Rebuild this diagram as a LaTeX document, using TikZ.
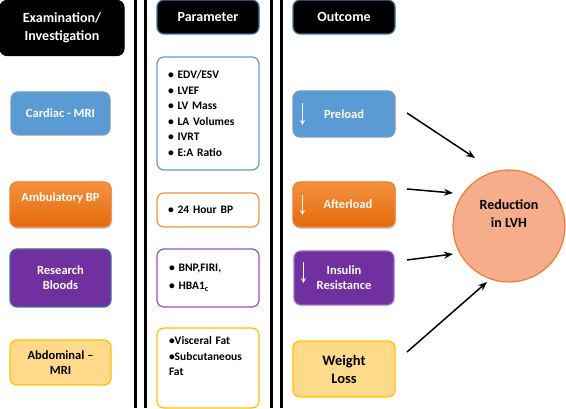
\documentclass[tikz,border=0pt]{standalone}
\usepackage{fontspec}
\setmainfont{Carlito}
\usepackage{xcolor}
\usetikzlibrary{positioning,shadows,arrows.meta}

\definecolor{mriblue}{HTML}{5B9BD5}
\definecolor{edgeblue}{HTML}{41719C}
\definecolor{bporange}{HTML}{ED7D31}
\definecolor{bptop}{HTML}{F6913F}
\definecolor{bpbot}{HTML}{E36A0C}
\definecolor{bloodpurple}{HTML}{7030A0}
\definecolor{fatfill}{HTML}{FFDA8A}
\definecolor{fatgold}{HTML}{FFC000}
\definecolor{lvhfill}{HTML}{F5AD8C}

\begin{document}
\begin{tikzpicture}[x=1pt,y=-1pt,line width=1.2pt,
    font=\bfseries\fontsize{12.5}{15}\selectfont,
    base/.style={rectangle,rounded corners=7pt,draw,minimum width=101pt,text centered,align=center,inner sep=2pt},
    head/.style={base,fill=black,text=white,draw=edgeblue,font=\bfseries\fontsize{14}{18}\selectfont},
    mri/.style={base,fill=mriblue,draw=edgeblue!70,text=white},
    bp/.style={base,top color=bptop,bottom color=bpbot,draw=bporange,text=white,
        drop shadow={opacity=0.35,shadow xshift=1pt,shadow yshift=-2pt}},
    blood/.style={base,fill=bloodpurple,text=white},
    fat/.style={base,fill=fatfill,draw=fatgold,text=black},
    plist/.style={base,fill=white,align=left,font=\bfseries\fontsize{11.5}{15.5}\selectfont},
    down/.style={draw=white,line width=1pt,-{Stealth[length=5pt,width=5pt]}},
    arr/.style={line width=1.5pt,-{Stealth[length=9pt,width=7pt]}},
    rail/.style={line width=3pt}]

    \useasboundingbox (0,0) rectangle (566,409);

    \draw[rail] (135,0) -- (135,408);
    \draw[rail] (145,0) -- (145,408);
    \draw[rail] (271,0) -- (271,408);
    \draw[rail] (281,0) -- (281,408);

    \node[head, draw=black, minimum width=124pt, minimum height=55pt] (exam) at (62,28)
    {Examination/\\Investigation};
    \node[head, minimum width=102pt, minimum height=34pt] (par) at (208,17)
    {Parameter};
    \node[head, minimum width=102pt, minimum height=34pt] (out) at (344,17)
    {Outcome};

    \node[mri, minimum width=99pt, minimum height=43pt] (mri) at (60.5,113.5)
    {Cardiac - MRI};
    \node[bp, minimum height=45pt] (amb) at (60.5,204.5)
    {Ambulatory BP\\~};
    \node[blood, draw=edgeblue, minimum height=58pt] (res) at (60.5,278)
    {Research\\Bloods};
    \node[fat, minimum height=45pt] (abd) at (60.5,362.5)
    {Abdominal –\\MRI};

    \node[plist, draw=mriblue, minimum width=102pt, minimum height=113pt, text width=80pt] (p1) at (208,113.5)
    {\textbullet\ EDV/ESV\\ \textbullet\ LVEF\\ \textbullet\ LV Mass\\ \textbullet\ LA Volumes\\ \textbullet\ IVRT\\ \textbullet\ E:A Ratio};
    \node[plist, draw=bptop, minimum width=102pt, minimum height=34pt, text width=80pt] (p2) at (208,210)
    {\textbullet\ 24 Hour BP};
    \node[plist, draw=bloodpurple!80, minimum width=102pt, minimum height=58pt, text width=78pt,
        font=\bfseries\fontsize{11.5}{18}\selectfont] (p3) at (208,278)
    {\textbullet\ BNP,FIRI,\\ \textbullet\ HBA1\textsubscript{c}};
    \node[plist, draw=fatgold, minimum width=102pt, minimum height=80pt, text width=78pt] (p4) at (208,368)
    {\textbullet Visceral Fat\\ \textbullet Subcutaneous\\ Fat\\[8pt]~};

    \node[mri, minimum width=102pt, minimum height=46pt] (pre) at (344,114)
    {Preload};
    \node[bp, minimum width=102pt, minimum height=45pt] (aft) at (344,204.5)
    {\hspace{8pt}Afterload};
    \node[blood, draw=bloodpurple!70, minimum width=100pt, minimum height=54pt] (ins) at (344,278)
    {Insulin\\Resistance};
    \node[fat, minimum width=102pt, minimum height=56pt, font=\bfseries\fontsize{14.5}{18}\selectfont] (wt) at (344,369)
    {Weight\\Loss};

    \node[circle, draw=bporange, fill=lvhfill, minimum size=112pt, inner sep=0pt, align=center,
        font=\bfseries\fontsize{14}{18}\selectfont] (lvh) at (509,226)
    {Reduction\\in LVH\\[6pt]~};

    \draw[down] ([shift={(10,-11)}]pre.west) -- ++(0,22);
    \draw[down] ([shift={(10,-9.5)}]aft.west) -- ++(0,20);
    \draw[down] ([shift={(10,-16)}]ins.west) -- ++(0,21);

    \coordinate (s1) at (407,113);
    \coordinate (t1) at (475,158);
    \coordinate (s2) at (407,189);
    \coordinate (t2) at (453,193);
    \coordinate (s3) at (407,260);
    \coordinate (t3) at (453,254);
    \coordinate (s4) at (407,352);
    \coordinate (t4) at (487,282);

    \path[arr]
    {
        (s1) edge (t1)
        (s2) edge (t2)
        (s3) edge (t3)
        (s4) edge (t4)
    };
\end{tikzpicture}
\end{document}
